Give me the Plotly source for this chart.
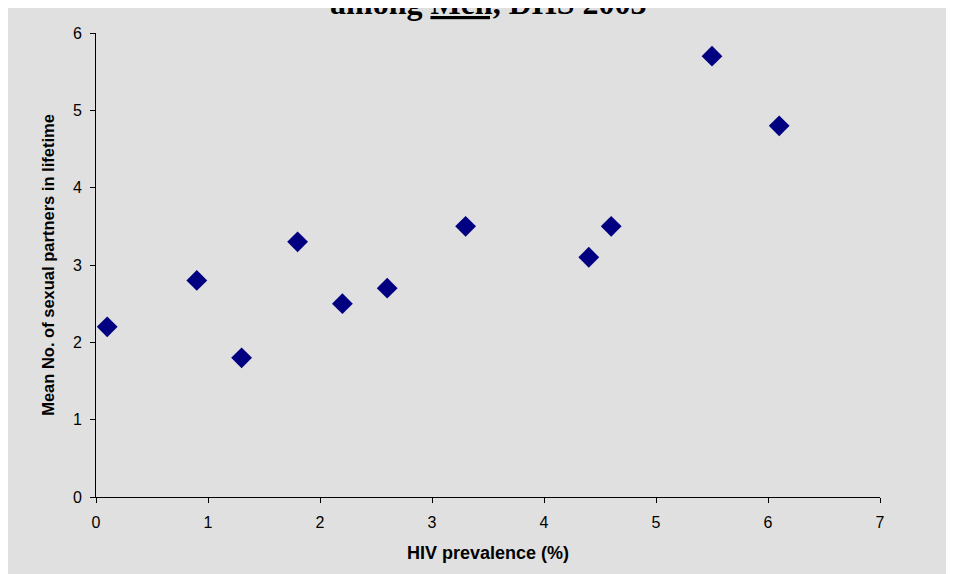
import plotly.graph_objects as go

# HIV prevalence (%) vs mean number of lifetime sexual partners, men, DHS 2003
hiv_prevalence = [0.1, 0.9, 1.3, 1.8, 2.2, 2.6, 3.3, 4.4, 4.6, 5.5, 6.1]
mean_partners = [2.2, 2.8, 1.8, 3.3, 2.5, 2.7, 3.5, 3.1, 3.5, 5.7, 4.8]

x_ticks = [0, 1, 2, 3, 4, 5, 6, 7]
y_ticks = [0, 1, 2, 3, 4, 5, 6]

BG = "#e0e0e0"
MARKER = "#000080"

fig = go.Figure()

fig.add_trace(go.Scatter(
    x=hiv_prevalence,
    y=mean_partners,
    mode="markers",
    marker=dict(symbol="diamond", size=16, color=MARKER, line=dict(width=0)),
    showlegend=False,
))

# title is cut off at the top of the picture, only the lower part shows
fig.add_annotation(
    text="<b>among <u>Men,</u> DHS 2003</b>",
    xref="paper", yref="paper", x=0.5, y=1.022,
    xanchor="center", yanchor="bottom", showarrow=False,
    font=dict(family="Liberation Serif, Times New Roman, serif", size=32, color="black"),
)

sans = "Liberation Sans, Arial, sans-serif"
tick_font = dict(family=sans, size=16, color="black")

fig.update_layout(
    width=954, height=574,
    paper_bgcolor=BG,
    plot_bgcolor=BG,
    margin=dict(l=88, r=82, t=25, b=85),
    font=tick_font,
    xaxis=dict(
        range=[0, 7], tickvals=x_ticks, showgrid=False, zeroline=False,
        showline=True, linecolor="black", linewidth=1,
        ticks="outside", ticklen=5, tickcolor="black",
        tickfont=tick_font, ticklabelstandoff=6,
        title=dict(text="<b>HIV prevalence (%)</b>",
                   font=dict(family=sans, size=18, color="black"), standoff=16),
    ),
    yaxis=dict(
        range=[0, 6], tickvals=y_ticks, showgrid=False, zeroline=False,
        showline=True, linecolor="black", linewidth=1,
        ticks="outside", ticklen=5, tickcolor="black",
        tickfont=tick_font, ticklabelstandoff=5,
        title=dict(text="<b>Mean No. of sexual partners in lifetime</b>",
                   font=dict(family=sans, size=16.5, color="black"), standoff=14),
    ),
)

fig.write_html("out.html")
